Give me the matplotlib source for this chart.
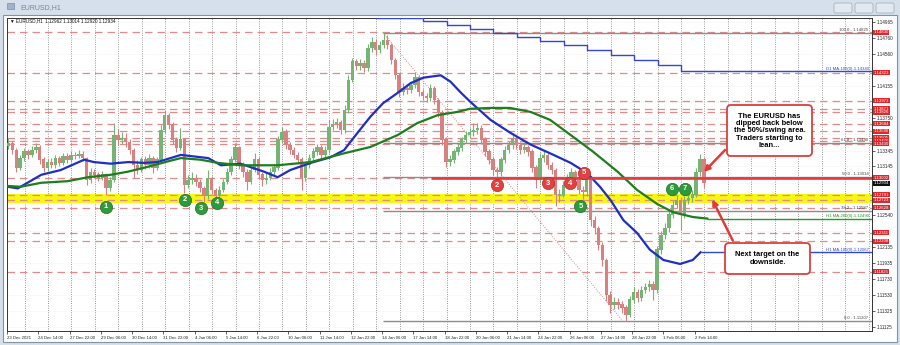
import matplotlib
matplotlib.use("Agg")
import matplotlib.pyplot as plt
import matplotlib.transforms as mtransforms
from matplotlib.patches import Rectangle, FancyBboxPatch, FancyArrowPatch

plt.rcParams['font.family'] = ['Liberation Sans', 'DejaVu Sans']

# EURUSD H1, shown as 4-hour blocks (hour index 0 = 23 Dec 06:00)
close = [1.1344, 1.1335, 1.1313, 1.1325, 1.1333, 1.1329, 1.1335, 1.1339, 1.1323, 1.1313,
         1.1320, 1.1316, 1.1325, 1.1319, 1.1327, 1.1323, 1.1329, 1.1328, 1.1330, 1.1325,
         1.1297, 1.1307, 1.1304, 1.1300, 1.1304, 1.1287, 1.1297, 1.1354, 1.1348, 1.1350,
         1.1345, 1.1335, 1.1316, 1.1310, 1.1323, 1.1316, 1.1325, 1.1313, 1.1323, 1.1360,
         1.1379, 1.1367, 1.1348, 1.1338, 1.1348, 1.1291, 1.1297, 1.1300, 1.1295, 1.1287,
         1.1277, 1.1300, 1.1285, 1.1277, 1.1285, 1.1295, 1.1307, 1.1323, 1.1338, 1.1316,
         1.1307, 1.1295, 1.1310, 1.1323, 1.1304, 1.1297, 1.1300, 1.1307, 1.1313, 1.1348,
         1.1358, 1.1341, 1.1335, 1.1329, 1.1323, 1.1300, 1.1316, 1.1325, 1.1333, 1.1338,
         1.1329, 1.1335, 1.1364, 1.1368, 1.1370, 1.1360, 1.1385, 1.1423, 1.1446, 1.1441,
         1.1444, 1.1438, 1.1463, 1.1471, 1.1461, 1.1467, 1.1473, 1.1467, 1.1448, 1.1429,
         1.1408, 1.1413, 1.1411, 1.1417, 1.1426, 1.1408, 1.1403, 1.1400, 1.1413, 1.1398,
         1.1383, 1.1348, 1.1320, 1.1323, 1.1333, 1.1338, 1.1348, 1.1354, 1.1358, 1.1360,
         1.1363, 1.1348, 1.1333, 1.1323, 1.1310, 1.1307, 1.1323, 1.1335, 1.1341, 1.1350,
         1.1341, 1.1335, 1.1338, 1.1333, 1.1313, 1.1297, 1.1325, 1.1329, 1.1316, 1.1310,
         1.1279, 1.1279, 1.1291, 1.1300, 1.1307, 1.1297, 1.1285, 1.1282, 1.1300, 1.1247,
         1.1237, 1.1216, 1.1197, 1.1153, 1.1141, 1.1144, 1.1141, 1.1137, 1.1128, 1.1147,
         1.1157, 1.1149, 1.1159, 1.1163, 1.1166, 1.1159, 1.1210, 1.1228, 1.1237, 1.1254,
         1.1266, 1.1272, 1.1254, 1.1272, 1.1275, 1.1279, 1.1307, 1.1323, 1.12934]
high = [1.1350, 1.1347, 1.1338, 1.1329, 1.1338, 1.1337, 1.1340, 1.1344, 1.1342, 1.1326,
        1.1324, 1.1325, 1.1329, 1.1328, 1.1331, 1.1332, 1.1334, 1.1333, 1.1335, 1.1334,
        1.1327, 1.1312, 1.1311, 1.1308, 1.1309, 1.1306, 1.1301, 1.1369, 1.1362, 1.1358,
        1.1356, 1.1349, 1.1338, 1.1322, 1.1327, 1.1328, 1.1330, 1.1328, 1.1327, 1.1366,
        1.1385, 1.1382, 1.1370, 1.1352, 1.1363, 1.1350, 1.1304, 1.1308, 1.1305, 1.1299,
        1.1290, 1.1310, 1.1303, 1.1288, 1.1290, 1.1299, 1.1312, 1.1328, 1.1344, 1.1340,
        1.1320, 1.1311, 1.1315, 1.1332, 1.1326, 1.1308, 1.1306, 1.1312, 1.1318, 1.1353,
        1.1364, 1.1361, 1.1345, 1.1339, 1.1333, 1.1326, 1.1320, 1.1330, 1.1338, 1.1343,
        1.1342, 1.1340, 1.1373, 1.1374, 1.1376, 1.1373, 1.1392, 1.1430, 1.1451, 1.1450,
        1.1449, 1.1448, 1.1468, 1.1477, 1.1475, 1.1472, 1.14825, 1.1480, 1.1470, 1.1451,
        1.1432, 1.1419, 1.1418, 1.1422, 1.1433, 1.1429, 1.1412, 1.1407, 1.1418, 1.1416,
        1.1401, 1.1386, 1.1351, 1.1329, 1.1337, 1.1343, 1.1352, 1.1359, 1.1363, 1.1369,
        1.1369, 1.1366, 1.1351, 1.1337, 1.1327, 1.1314, 1.1327, 1.1340, 1.1346, 1.1356,
        1.1353, 1.1345, 1.1343, 1.1342, 1.1336, 1.1316, 1.1331, 1.1334, 1.1332, 1.1320,
        1.1313, 1.1286, 1.1296, 1.1305, 1.1312, 1.1310, 1.1300, 1.1290, 1.1305, 1.1303,
        1.1252, 1.1240, 1.1220, 1.1200, 1.1158, 1.1150, 1.1149, 1.1146, 1.1140, 1.1152,
        1.1163, 1.1160, 1.1164, 1.1168, 1.1172, 1.1170, 1.1215, 1.1234, 1.1243, 1.1259,
        1.1272, 1.1279, 1.1276, 1.1278, 1.1281, 1.1285, 1.1313, 1.1330, 1.1326]
low = [1.1336, 1.1330, 1.1308, 1.1310, 1.1321, 1.1324, 1.1326, 1.1331, 1.1318, 1.1307,
       1.1309, 1.1312, 1.1313, 1.1315, 1.1316, 1.1319, 1.1320, 1.1324, 1.1325, 1.1321,
       1.1291, 1.1294, 1.1300, 1.1296, 1.1297, 1.1279, 1.1284, 1.1295, 1.1342, 1.1343,
       1.1339, 1.1330, 1.1300, 1.1305, 1.1307, 1.1311, 1.1313, 1.1306, 1.1310, 1.1320,
       1.1356, 1.1362, 1.1343, 1.1333, 1.1335, 1.1281, 1.1287, 1.1293, 1.1290, 1.1282,
       1.1270, 1.1274, 1.1280, 1.1273, 1.1274, 1.1282, 1.1292, 1.1304, 1.1320, 1.1311,
       1.1301, 1.1285, 1.1292, 1.1307, 1.1300, 1.1290, 1.1293, 1.1297, 1.1303, 1.1310,
       1.1344, 1.1337, 1.1330, 1.1325, 1.1318, 1.1285, 1.1296, 1.1312, 1.1321, 1.1329,
       1.1322, 1.1325, 1.1332, 1.1360, 1.1363, 1.1355, 1.1357, 1.1382, 1.1420, 1.1436,
       1.1436, 1.1433, 1.1435, 1.1458, 1.1455, 1.1457, 1.1463, 1.1462, 1.1443, 1.1424,
       1.1402, 1.1404, 1.1405, 1.1407, 1.1413, 1.1403, 1.1398, 1.1395, 1.1397, 1.1393,
       1.1377, 1.1342, 1.1314, 1.1315, 1.1319, 1.1329, 1.1334, 1.1344, 1.1350, 1.1353,
       1.1355, 1.1343, 1.1328, 1.1318, 1.1304, 1.1294, 1.1303, 1.1319, 1.1331, 1.1337,
       1.1337, 1.1330, 1.1331, 1.1328, 1.1308, 1.1288, 1.1294, 1.1320, 1.1311, 1.1305,
       1.1265, 1.1270, 1.1276, 1.1287, 1.1296, 1.1292, 1.1280, 1.1273, 1.1277, 1.1240,
       1.1230, 1.1210, 1.1190, 1.1146, 1.1131, 1.1135, 1.1136, 1.1131, 1.11207, 1.1125,
       1.1143, 1.1144, 1.1145, 1.1155, 1.1158, 1.1147, 1.1156, 1.1205, 1.1223, 1.1232,
       1.1250, 1.1262, 1.1235, 1.1250, 1.1267, 1.1270, 1.1276, 1.1302, 1.1288]
first_open = 1.1340

# moving averages (hour index, price)
ma100_h = [1, 11, 21, 35, 55, 79, 89, 106, 124, 140, 154, 178, 206, 219, 239, 263, 277, 290,
           311, 331, 345, 359, 372, 385, 400, 413, 426, 444, 454, 464, 474, 495, 515, 536,
           556, 577, 594, 607, 618, 631, 645, 658, 672, 689, 702, 710]
ma100_p = [1.1289, 1.1287, 1.1294, 1.1304, 1.1310, 1.1323, 1.1320, 1.1318, 1.1320, 1.1319,
           1.1320, 1.1329, 1.1325, 1.1316, 1.1318, 1.1308, 1.1301, 1.1310, 1.1319, 1.1326,
           1.1335, 1.1357, 1.1377, 1.1394, 1.1407, 1.1419, 1.1426, 1.1429, 1.1421, 1.1408,
           1.1396, 1.1373, 1.1357, 1.1342, 1.1331, 1.1319, 1.1306, 1.1289, 1.1272, 1.1247,
           1.1231, 1.1210, 1.1197, 1.1192, 1.1197, 1.12067]
ma200_h = [1, 14, 35, 62, 83, 106, 124, 144, 165, 178, 198, 216, 239, 277, 311, 345, 372,
           400, 420, 441, 461, 474, 495, 515, 536, 556, 577, 600, 625, 645, 666, 682, 702, 717]
ma200_p = [1.1290, 1.1289, 1.1294, 1.1296, 1.1301, 1.1304, 1.1308, 1.1314, 1.1321, 1.1325,
           1.1323, 1.1319, 1.1316, 1.1316, 1.1320, 1.1331, 1.1339, 1.1354, 1.1369, 1.1379,
           1.1383, 1.1387, 1.1388, 1.1388, 1.1383, 1.1373, 1.1354, 1.1333, 1.1308, 1.1285,
           1.1267, 1.1257, 1.1251, 1.12490]
d1_ma_h = [378, 426, 450, 474, 498, 522, 546, 570, 594, 618, 642, 666, 690, 886]
d1_ma_p = [1.15005, 1.14972, 1.14922, 1.14871, 1.14821, 1.14771, 1.14721, 1.14670,
           1.14608, 1.14545, 1.14482, 1.14419, 1.14340, 1.14340]

# levels
red_levels = [1.14830, 1.14323, 1.13973, 1.13871, 1.13826, 1.13684, 1.13590, 1.13505,
              1.13470, 1.13430, 1.13002, 1.12791, 1.12723, 1.12628, 1.12311, 1.12208, 1.11825]
swing_level = 1.13002
last_price = 1.12934
yellow_zone = (1.12685, 1.12800)
fib_levels = [1.14825, 1.13440, 1.13014, 1.12587, 1.11207]
fib_names = ['100.0', '61.8', '50.0', '38.2', '0.0']
fib_start, fib_end = 385, 630

price_grid = [1.14965, 1.14760, 1.14560, 1.14355, 1.14155, 1.13955, 1.13750, 1.13550,
              1.13345, 1.13145, 1.12940, 1.12740, 1.12540, 1.12335, 1.12135, 1.11935,
              1.11730, 1.11530, 1.11325, 1.11125]
price_ticks = [1.14965, 1.14760, 1.14560, 1.14155, 1.13750, 1.13345, 1.13145, 1.12540,
               1.12135, 1.11935, 1.11730, 1.11530, 1.11325, 1.11125]
time_labels = ['23 Dec 2021', '24 Dec 14:00', '27 Dec 22:00', '29 Dec 06:00', '30 Dec 14:00',
               '31 Dec 22:00', '4 Jan 06:00', '5 Jan 14:00', '6 Jan 22:00', '10 Jan 06:00',
               '11 Jan 14:00', '12 Jan 22:00', '14 Jan 06:00', '17 Jan 14:00', '18 Jan 22:00',
               '20 Jan 06:00', '21 Jan 14:00', '24 Jan 22:00', '26 Jan 06:00', '27 Jan 14:00',
               '28 Jan 22:00', '1 Feb 06:00', '2 Feb 14:00']

green_marks = [(101, 1.12636, '1'), (182, 1.12724, '2'), (199, 1.12623, '3'), (215, 1.12686, '4'),
               (587, 1.12648, '5'), (681, 1.12862, '6'), (694, 1.12862, '7')]
red_marks = [(502, 1.12912, '2'), (554, 1.12937, '3'), (576, 1.12937, '4'), (591, 1.13063, '5')]

XMIN, XMAX = 1.0, 885.5
YMIN, YMAX = 1.11078, 1.15010

fig = plt.figure(figsize=(9, 3.45), dpi=100, facecolor='#d6e0eb')
inch = fig.dpi_scale_trans


def P(x, y):
    # screen pixel (from top-left) -> inches for dpi_scale_trans
    return (x / 100.0, (345 - y) / 100.0)


# window chrome
fig.patches.append(Rectangle(P(3, 342), 8.94, 3.27, transform=inch, fc='white',
                             ec='#8393a6', lw=0.8, zorder=-5))
fig.patches.append(Rectangle(P(7, 9), 0.07, 0.06, transform=inch, fc='#9fb4cc',
                             ec='#7b8fa6', lw=0.5, zorder=-4))
fig.text(*P(20, 8), 'EURUSD,H1', transform=inch, fontsize=5, color='#7a8593', va='center')
for bx in [834, 855, 876]:
    fig.patches.append(FancyBboxPatch(P(bx, 13), 0.18, 0.1, transform=inch,
                                      boxstyle='round,pad=0,rounding_size=0.02',
                                      fc='#e3e9f0', ec='#9aa8b8', lw=0.5, zorder=-4))

ax = fig.add_axes([7 / 900, 14 / 345, 865 / 900, 313 / 345])
ax.set_zorder(1)
ax.set_xlim(XMIN, XMAX)
ax.set_ylim(YMIN, YMAX)
ax.set_facecolor('white')
for s in ax.spines.values():
    s.set_linewidth(0.7)
    s.set_color('#333333')

# grid
h = 18
while h < XMAX:
    ax.axvline(h, color='#5e5e5e', lw=0.55, ls=(0, (1, 2)), zorder=1)
    h += 24
for p in price_grid:
    ax.axhline(p, color='#e6e6e6', lw=0.5, ls=(0, (1, 2)), zorder=1)

# yellow zone and horizontal levels
ax.axhspan(*yellow_zone, color='#f6f614', lw=0, zorder=1.5)
for p in red_levels:
    ax.axhline(p, color='#e48a8a', lw=0.9, ls=(0, (6, 4)), zorder=2)

for p, name in zip(fib_levels, fib_names):
    ax.hlines(p, fib_start, XMAX, color='#8c8c8c', lw=1.0, zorder=2)
    ax.text(882, p + 0.00007, f'{name} - {p:.5f}', fontsize=3.1, color='#444444',
            ha='right', va='bottom', zorder=7)
ax.plot([fib_start, fib_end], [fib_levels[0], fib_levels[-1]], color='#d08a8a',
        lw=0.7, ls=(0, (1, 1.5)), zorder=2)

# candles
opens = [first_open] + close[:-1]
t = [4 * i + 1.5 for i in range(len(close))]
cols = ['#74b474' if c >= o else '#d98080' for o, c in zip(opens, close)]
ax.vlines(t, low, high, colors=cols, lw=0.8, zorder=3)
ax.bar(t, [abs(c - o) + 0.00004 for o, c in zip(opens, close)],
       bottom=[min(o, c) for o, c in zip(opens, close)], width=3.5, color=cols, lw=0, zorder=3)

# moving averages
ax.plot(ma100_h, ma100_p, color='#1d2fc4', lw=1.6, zorder=4)
ax.plot(ma200_h, ma200_p, color='#1e7d1e', lw=1.6, zorder=4)
ax.hlines(ma100_p[-1], ma100_h[-1], XMAX, color='#3346d6', lw=1.0, zorder=4)
ax.hlines(ma200_p[-1], ma200_h[-1], XMAX, color='#2c962c', lw=1.0, zorder=4)
ax.step(d1_ma_h, d1_ma_p, where='post', color='#3346d6', lw=1.0, zorder=4)
ax.text(882, ma100_p[-1] + 0.00007, f'H1 MA-100(0)-{ma100_p[-1]:.5f}', fontsize=3.1,
        color='#3346d6', ha='right', va='bottom', zorder=7)
ax.text(882, ma200_p[-1] + 0.00007, f'H1 MA-200(0)-{ma200_p[-1]:.5f}', fontsize=3.1,
        color='#2c962c', ha='right', va='bottom', zorder=7)
ax.text(882, d1_ma_p[-1] + 0.00007, f'D1 MA-100(0)-{d1_ma_p[-1]:.5f}', fontsize=3.1,
        color='#3346d6', ha='right', va='bottom', zorder=7)

# 50% swing line
ax.hlines(swing_level, 434, XMAX, color='#e8393f', lw=1.9, zorder=4.5)

# numbered markers
for hx, p, lab in green_marks:
    ax.scatter([hx], [p], s=78, color='#2f9a3b', edgecolors='#1f6f28', linewidths=0.5, zorder=6)
    ax.text(hx, p, lab, fontsize=5.5, color='white', ha='center', va='center',
            fontweight='bold', zorder=7)
for hx, p, lab in red_marks:
    ax.scatter([hx], [p], s=78, color='#e3413f', edgecolors='#b52a2a', linewidths=0.5, zorder=6)
    ax.text(hx, p, lab, fontsize=5.5, color='white', ha='center', va='center',
            fontweight='bold', zorder=7)

# axes ticks
ax.yaxis.tick_right()
ax.set_yticks(price_ticks)
ax.set_yticklabels([f'{p:.5f}' for p in price_ticks])
ax.tick_params(axis='y', length=2, width=0.5, pad=1.5, labelsize=3.3, colors='#222222')
ax.set_xticks([32 * k for k in range(len(time_labels))])
ax.set_xticklabels(time_labels)
ax.tick_params(axis='x', length=2, width=0.5, pad=1.5, labelsize=3.1, colors='#222222')
for lbl in ax.get_xticklabels():
    lbl.set_ha('left')

# price labels on the right scale
trans = mtransforms.blended_transform_factory(ax.transAxes, ax.transData)
for p in red_levels:
    ax.text(1.002, p, f'{p:.5f}', transform=trans, fontsize=3.1, color='white', ha='left',
            va='center', clip_on=False, zorder=8,
            bbox=dict(boxstyle='square,pad=0.12', fc='#e2262b', ec='none'))
ax.text(1.002, last_price, f'{last_price:.5f}', transform=trans, fontsize=3.1, color='white',
        ha='left', va='center', clip_on=False, zorder=9,
        bbox=dict(boxstyle='square,pad=0.12', fc='#111111', ec='none'))

# header line
fig.text(*P(10, 21), '\u25bc EURUSD,H1  1.12962 1.13014 1.12920 1.12934', transform=inch,
         fontsize=3.3, color='#111111', va='center', zorder=10)

# commentary boxes
for (x0, y0, x1, y1) in [(727, 105, 812, 156), (725, 243, 810, 274)]:
    fig.patches.append(FancyBboxPatch(P(x0, y1), (x1 - x0) / 100, (y1 - y0) / 100,
                                      transform=inch,
                                      boxstyle='round,pad=0,rounding_size=0.04',
                                      fc='white', ec='#d8403c', lw=1.3, zorder=10))
fig.text(*P(769.5, 131), 'The EURUSD has\ndipped back below\nthe 50%/swing area.\n'
         'Traders starting to\nlean...', transform=inch, fontsize=5.4, fontweight='bold',
         ha='center', va='center', linespacing=1.05, zorder=11)
fig.text(*P(767.5, 258.5), 'Next target on the\ndownside.', transform=inch, fontsize=5.4,
         fontweight='bold', ha='center', va='center', linespacing=1.1, zorder=11)

for a, b in [((727, 148), (702, 174)), ((734, 243), (711, 197))]:
    fig.patches.append(FancyArrowPatch(P(*a), P(*b), transform=inch, arrowstyle='-|>',
                                       mutation_scale=8, lw=1.8, color='#e23a3a', zorder=10))

fig.savefig('out.png', dpi=100, facecolor=fig.get_facecolor())
